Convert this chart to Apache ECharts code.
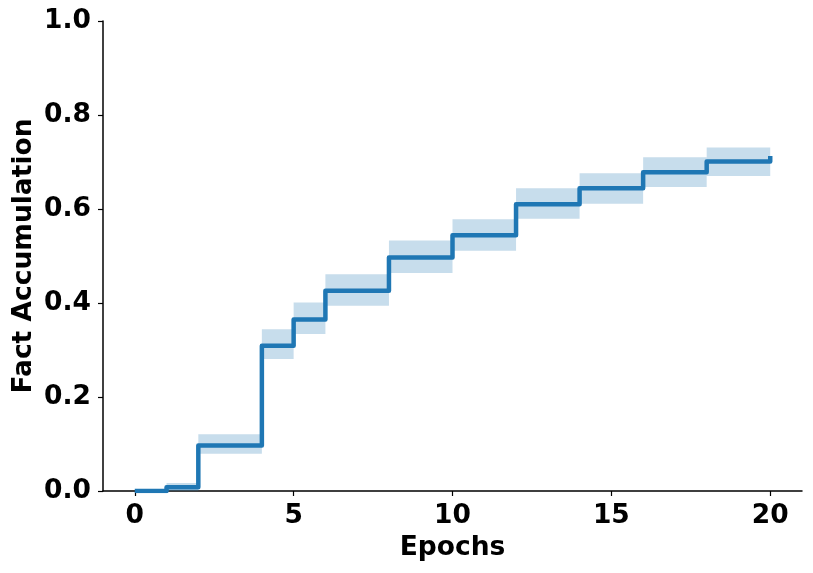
<!DOCTYPE html>
<html>
<head>
<meta charset="utf-8">
<script src="https://cdn.jsdelivr.net/npm/echarts@6/dist/echarts.min.js"></script>
<style>html,body{margin:0;padding:0;background:#fff}#c{width:813px;height:573px}</style>
</head>
<body>
<div id="c"></div>
<script>
const epochs = [0, 1, 2, 4, 5, 6, 8, 10, 12, 14, 16, 18, 20];
const meanValues = [0, 0.008, 0.097, 0.309, 0.365, 0.426, 0.497, 0.544, 0.610, 0.644, 0.678, 0.701, 0.713];
const upperValues = [0, 0.017, 0.121, 0.344, 0.401, 0.461, 0.533, 0.578, 0.644, 0.676, 0.710, 0.731, 0.713];
const lowerValues = [0, 0.000, 0.079, 0.281, 0.334, 0.394, 0.464, 0.511, 0.579, 0.611, 0.647, 0.670, 0.713];
const xTicks = [0, 5, 10, 15, 20];
const yTicks = [0, 0.2, 0.4, 0.6, 0.8, 1.0];

const C0 = '#1f77b4';
const bandData = [];
for (let i = 0; i < epochs.length - 1; i++) {
  bandData.push([epochs[i], epochs[i + 1], lowerValues[i], upperValues[i]]);
}
const lineData = epochs.map((e, i) => [e, meanValues[i]]);

const font = 'DejaVu Sans';
const fs = 26.5;
const chart = echarts.init(document.getElementById('c'), null, {renderer: 'canvas'});
chart.setOption({
  animation: false,
  backgroundColor: '#fff',
  grid: {left: 103, right: 11, top: 21, bottom: 82, containLabel: false, outerBoundsMode: 'none'},
  xAxis: {
    type: 'value', min: -1, max: 21,
    name: 'Epochs', nameLocation: 'middle', nameGap: 44,
    nameTextStyle: {fontFamily: font, fontWeight: 'bold', fontSize: fs, color: '#000'},
    axisLine: {show: true, onZero: false, lineStyle: {color: '#000', width: 1.5}},
    axisTick: {show: true, length: 5, lineStyle: {color: '#000', width: 1.2}, customValues: xTicks},
    axisLabel: {fontFamily: font, fontWeight: 'bold', fontSize: fs, color: '#000', margin: 12, customValues: xTicks},
    splitLine: {show: false}
  },
  yAxis: {
    type: 'value', min: 0, max: 1,
    name: 'Fact Accumulation', nameLocation: 'middle', nameGap: 65, nameMoveOverlap: false,
    nameTextStyle: {fontFamily: font, fontWeight: 'bold', fontSize: fs, color: '#000'},
    axisLine: {show: true, onZero: false, lineStyle: {color: '#000', width: 1.5}},
    axisTick: {show: true, length: 5, lineStyle: {color: '#000', width: 1.2}, customValues: yTicks},
    axisLabel: {fontFamily: font, fontWeight: 'bold', fontSize: fs, color: '#000', margin: 12,
      customValues: yTicks, formatter: v => v.toFixed(1)},
    splitLine: {show: false}
  },
  series: [
    {
      type: 'custom',
      data: bandData,
      z: 1,
      renderItem: function (params, api) {
        const p1 = api.coord([api.value(0), api.value(3)]);
        const p2 = api.coord([api.value(1), api.value(2)]);
        return {
          type: 'rect',
          shape: {x: p1[0], y: p1[1], width: p2[0] - p1[0], height: p2[1] - p1[1]},
          style: {fill: 'rgba(31,119,180,0.25)'}
        };
      },
      silent: true
    },
    {
      type: 'line',
      data: lineData,
      step: 'end',
      symbol: 'none',
      z: 3,
      lineStyle: {color: C0, width: 4.5, join: 'round', cap: 'butt'}
    }
  ]
});
</script>
</body>
</html>
